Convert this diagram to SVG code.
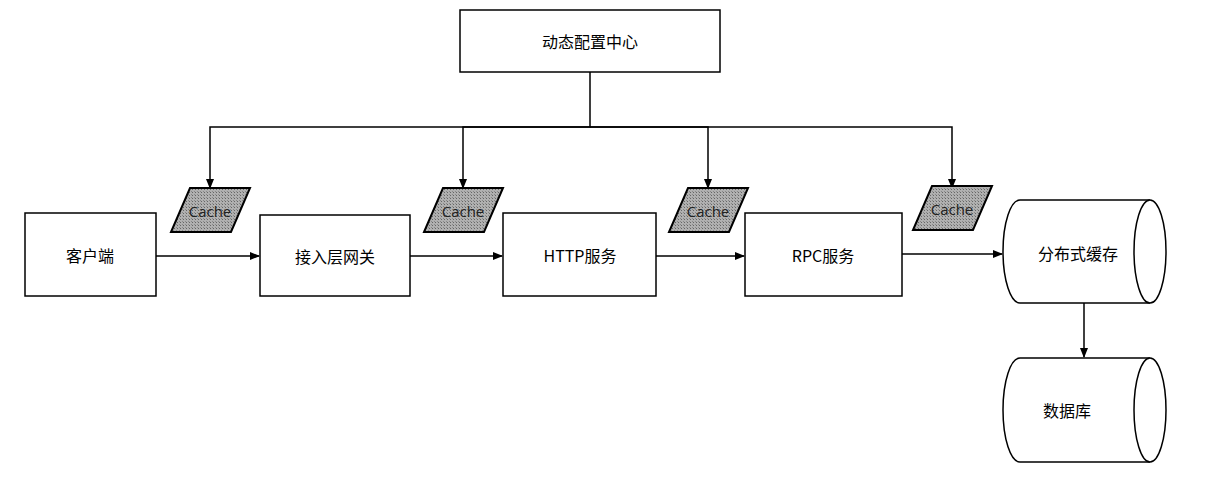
<svg xmlns="http://www.w3.org/2000/svg" width="1206" height="478" viewBox="0 0 1206 478">
<style>
.b{fill:#fff;stroke:#000;stroke-width:1.5}
.t{font-family:"Noto Sans CJK SC","Noto Sans",sans-serif;font-size:16px;text-anchor:middle;dominant-baseline:central;fill:#000}
.c{fill:url(#h);stroke:#000;stroke-width:2}
.ct{font-family:"Open Sans","Noto Sans",sans-serif;font-size:15px;text-anchor:middle;dominant-baseline:central;fill:#222}
.l{fill:none;stroke:#000;stroke-width:1.5;marker-end:url(#a)}
</style>
<defs>
<pattern id="h" width="3" height="3" patternUnits="userSpaceOnUse"><rect width="3" height="3" fill="#b0b0b0"/><rect width="1" height="1" fill="#666"/><rect x="2" y="2" width="1" height="1" fill="#888"/></pattern>
<marker id="a" markerWidth="10" markerHeight="8" refX="9" refY="4" orient="auto" markerUnits="userSpaceOnUse"><path d="M0,0L10,4L0,8z" fill="#000"/></marker>
</defs>
<g id="connectors">
<path class="l" d="M590,72V127H210V188" />
<path class="l" d="M590,127H463V188"/>
<path class="l" d="M590,127H708V188"/>
<path class="l" d="M590,127H952V188"/>
<path class="l" d="M156,256H259"/>
<path class="l" d="M410,256H502"/>
<path class="l" d="M656,256H744"/>
<path class="l" d="M902,254H1002"/>
<path class="l" d="M1084,303V357"/>
</g>
<g id="config"><rect class="b" x="460" y="10" width="260" height="62"/><text class="t" x="590" y="41">动态配置中心</text></g>
<g id="cache1"><polygon class="c" points="190,188 250,188 231,232 171,232"/><text class="ct" x="210" y="211">Cache</text></g>
<g id="cache2"><polygon class="c" points="443,188 503,188 484,232 424,232"/><text class="ct" x="463" y="211">Cache</text></g>
<g id="cache3"><polygon class="c" points="688,188 748,188 729,232 669,232"/><text class="ct" x="708" y="211">Cache</text></g>
<g id="cache4"><polygon class="c" points="932,186 992,186 973,230 913,230"/><text class="ct" x="952" y="209">Cache</text></g>
<g id="client"><rect class="b" x="25" y="213" width="131" height="83"/><text class="t" x="90" y="255">客户端</text></g>
<g id="gateway"><rect class="b" x="260" y="215" width="150" height="81"/><text class="t" x="335" y="256">接入层网关</text></g>
<g id="http"><rect class="b" x="503" y="213" width="153" height="83"/><text class="t" x="580" y="255">HTTP服务</text></g>
<g id="rpc"><rect class="b" x="745" y="213" width="157" height="83"/><text class="t" x="823" y="255">RPC服务</text></g>
<g id="dcache"><path class="b" d="M1020,200H1150A16,51.5 0 0 1 1150,303H1020A17,51.5 0 0 1 1020,200z"/><path class="b" fill="none" d="M1150,200A16,51.5 0 0 0 1150,303"/><text class="t" x="1078" y="253">分布式缓存</text></g>
<g id="db"><path class="b" d="M1020,358H1150A16,52 0 0 1 1150,462H1020A17,52 0 0 1 1020,358z"/><path class="b" fill="none" d="M1150,358A16,52 0 0 0 1150,462"/><text class="t" x="1067" y="410">数据库</text></g>
</svg>
